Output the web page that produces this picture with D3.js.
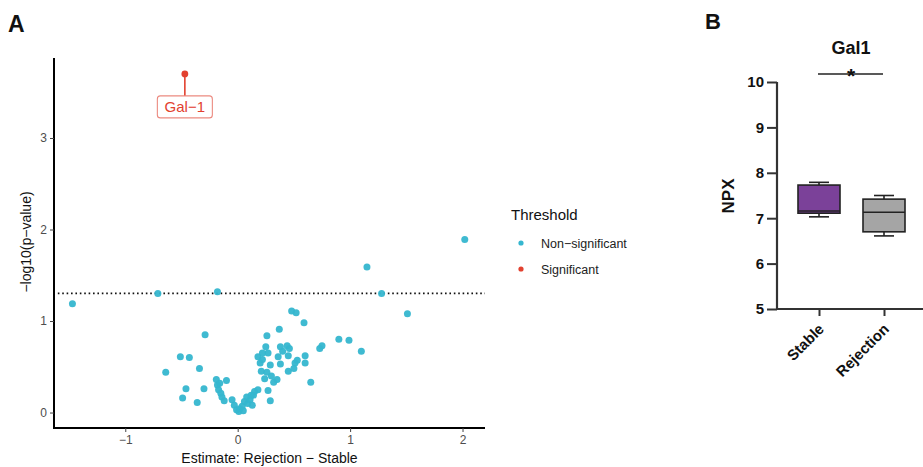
<!DOCTYPE html>
<html>
<head>
<meta charset="utf-8">
<script src="https://cdn.jsdelivr.net/npm/d3@7/dist/d3.min.js"></script>
<style>
  html, body { margin: 0; padding: 0; background: #ffffff; }
  svg { display: block; font-family: "Liberation Sans", Arial, sans-serif; }
</style>
</head>
<body>
<svg id="chart" width="923" height="467"></svg>
<script>
// ---------- Panel A data (volcano plot) ----------
const estimate = [
  -1.47, -0.71, -0.18, 1.15, 1.28, 2.02, 1.51,
  -0.64, -0.51, -0.43, -0.29, -0.34, -0.46, -0.49, -0.30, -0.36,
  -0.19, -0.10, -0.18, -0.17, -0.15, -0.14, -0.12, -0.16,
  -0.05, -0.03, -0.01, 0.01, 0.02, 0.04, 0.06, 0.08, 0.09, 0.11, 0.13, 0.14, 0.15, 0.18, 0.12, 0.27, 0.29, 0.05,
  0.18, 0.20, 0.21, 0.24, 0.26, 0.25, 0.26, 0.27, 0.29, 0.32, 0.35, 0.36, 0.37, 0.38, 0.38, 0.40, 0.44, 0.45,
  0.46, 0.45, 0.48, 0.52, 0.51, 0.53, 0.50, 0.59, 0.60, 0.60, 0.65, 0.73, 0.75, 0.90, 0.99, 1.10, 0.22, 0.30, 0.22
];
const negLog10P = [
  1.19, 1.30, 1.32, 1.59, 1.30, 1.89, 1.08,
  0.44, 0.61, 0.60, 0.85, 0.48, 0.26, 0.16, 0.26, 0.11,
  0.36, 0.35, 0.30, 0.25, 0.21, 0.17, 0.13, 0.32,
  0.14, 0.08, 0.03, 0.01, 0.04, 0.07, 0.12, 0.17, 0.10, 0.14, 0.08, 0.19, 0.23, 0.25, 0.19, 0.24, 0.13, 0.02,
  0.61, 0.54, 0.45, 0.37, 0.44, 0.72, 0.84, 0.65, 0.52, 0.33, 0.36, 0.61, 0.91, 0.72, 0.53, 0.67, 0.73, 0.62,
  0.70, 0.45, 1.11, 1.09, 0.54, 0.57, 0.48, 0.98, 0.62, 0.54, 0.33, 0.70, 0.73, 0.80, 0.79, 0.67, 0.58, 0.40, 0.65
];
const sigName = "Gal\u22121";
const sigEstimate = -0.47;
const sigNegLog10P = 3.70;
const pThresholdLine = -Math.log10(0.05);
const xTicksA = [-1, 0, 1, 2];
const yTicksA = [0, 1, 2, 3];
const legendLabels = ["Non\u2212significant", "Significant"];

// ---------- Panel B data (box plot) ----------
const groups = ["Stable", "Rejection"];
const boxMin    = [7.03, 6.61];
const boxQ1     = [7.11, 6.70];
const boxMedian = [7.16, 7.13];
const boxQ3     = [7.73, 7.42];
const boxMax    = [7.79, 7.50];
const yTicksB = [5, 6, 7, 8, 9, 10];

const colNon = "#35b6cf";
const colSig = "#e2412f";
const boxFill = ["#7b4199", "#a5a5a5"];

const svg = d3.select("#chart");

// ================= Panel A =================
const xA = d3.scaleLinear().domain([-1.634, 2.2]).range([54, 485]);
const yA = d3.scaleLinear().domain([-0.169, 3.874]).range([428, 58]);
const minus = v => (v < 0 ? "\u2212" + Math.abs(v) : String(v));

const gA = svg.append("g");

// threshold dotted line
gA.append("line")
  .attr("x1", xA(-1.6)).attr("x2", xA(2.2))
  .attr("y1", yA(pThresholdLine)).attr("y2", yA(pThresholdLine))
  .attr("stroke", "#111").attr("stroke-width", 1.8)
  .attr("stroke-dasharray", "1.6,2.8");

// points
const ptsA = estimate.map((e, i) => ({ x: e, y: negLog10P[i] }));
gA.append("g").selectAll("circle").data(ptsA).join("circle")
  .attr("cx", d => xA(d.x)).attr("cy", d => yA(d.y))
  .attr("r", 3.5).attr("fill", colNon).attr("fill-opacity", 0.95);

// significant point + label
const sx = xA(sigEstimate), sy = yA(sigNegLog10P);
gA.append("line").attr("x1", sx).attr("x2", sx).attr("y1", sy).attr("y2", sy + 22)
  .attr("stroke", colSig).attr("stroke-width", 1.6);
gA.append("circle").attr("cx", sx).attr("cy", sy).attr("r", 3.4).attr("fill", colSig);
gA.append("rect").attr("x", sx - 27.5).attr("y", sy + 22).attr("width", 55).attr("height", 22)
  .attr("rx", 3).attr("fill", "#fff").attr("stroke", "#ec8a80").attr("stroke-width", 1.1);
gA.append("text").attr("x", sx).attr("y", sy + 38.5).attr("text-anchor", "middle")
  .attr("font-size", 15).attr("fill", colSig).text(sigName);

// axes
const axXA = gA.append("g").attr("transform", "translate(0,428)")
  .call(d3.axisBottom(xA).tickValues(xTicksA).tickSize(4).tickFormat(minus));
const axYA = gA.append("g").attr("transform", "translate(54,0)")
  .call(d3.axisLeft(yA).tickValues(yTicksA).tickSize(4).tickFormat(minus));
[axXA, axYA].forEach(ax => {
  ax.select(".domain").attr("stroke", "#000").attr("stroke-width", 2);
  ax.selectAll(".tick line").attr("stroke", "#444").attr("stroke-width", 1);
  ax.selectAll(".tick text").attr("fill", "#4d4d4d").attr("font-size", 12)
    .attr("font-family", "Liberation Sans, Arial, sans-serif");
});
axXA.select(".domain").attr("d", "M54,0H485");
axYA.select(".domain").attr("d", "M0,58V429");

gA.append("text").attr("x", 269.5).attr("y", 463).attr("text-anchor", "middle")
  .attr("font-size", 14).attr("fill", "#111").text("Estimate: Rejection \u2212 Stable");
gA.append("text").attr("transform", "translate(31,242) rotate(-90)").attr("text-anchor", "middle")
  .attr("font-size", 14).attr("fill", "#111").text("\u2212log10(p\u2212value)");

gA.append("text").attr("x", 8).attr("y", 32).attr("font-size", 23).attr("font-weight", "bold")
  .attr("fill", "#111").text("A");

// legend
const leg = svg.append("g");
leg.append("text").attr("x", 511).attr("y", 220).attr("font-size", 15).attr("fill", "#111").text("Threshold");
legendLabels.forEach((lab, i) => {
  const y = 243 + i * 26;
  leg.append("circle").attr("cx", 521).attr("cy", y).attr("r", 2.6).attr("fill", i === 0 ? colNon : colSig);
  leg.append("text").attr("x", 541).attr("y", y + 4.5).attr("font-size", 12.5).attr("fill", "#222").text(lab);
});

// ================= Panel B =================
const yB = d3.scaleLinear().domain([5, 10]).range([309, 82]);
const xB = d3.scalePoint().domain(groups).range([819, 884]);
const gB = svg.append("g");

const axYB = gB.append("g").attr("transform", "translate(777,0)")
  .call(d3.axisLeft(yB).tickValues(yTicksB).tickSize(10).tickFormat(d3.format("d")));
axYB.select(".domain").attr("d", "M0,82V310").attr("stroke", "#333").attr("stroke-width", 2.2);
axYB.selectAll(".tick line").attr("stroke", "#333").attr("stroke-width", 2);
axYB.selectAll(".tick text").attr("font-size", 15).attr("font-weight", "bold").attr("fill", "#111")
  .attr("x", -13).attr("font-family", "Liberation Sans, Arial, sans-serif");

const axXB = gB.append("g").attr("transform", "translate(0,309)")
  .call(d3.axisBottom(xB).tickSize(7).tickFormat(""));
axXB.select(".domain").attr("d", "M776,0H923").attr("stroke", "#333").attr("stroke-width", 2.2);
axXB.selectAll(".tick line").attr("stroke", "#333").attr("stroke-width", 2);
groups.forEach(g => {
  gB.append("text").attr("transform", `translate(${xB(g) + 6},330) rotate(-45)`)
    .attr("text-anchor", "end").attr("font-size", 15).attr("font-weight", "bold")
    .attr("fill", "#111").text(g);
});

// boxes
groups.forEach((g, i) => {
  const cx = xB(g), w = 42, cw = 20;
  const line = (x1, y1, x2, y2) => gB.append("line").attr("x1", x1).attr("y1", y1)
    .attr("x2", x2).attr("y2", y2).attr("stroke", "#222").attr("stroke-width", 1.6);
  line(cx, yB(boxMax[i]), cx, yB(boxQ3[i]));
  line(cx, yB(boxQ1[i]), cx, yB(boxMin[i]));
  line(cx - cw / 2, yB(boxMax[i]), cx + cw / 2, yB(boxMax[i]));
  line(cx - cw / 2, yB(boxMin[i]), cx + cw / 2, yB(boxMin[i]));
  gB.append("rect").attr("x", cx - w / 2).attr("y", yB(boxQ3[i]))
    .attr("width", w).attr("height", yB(boxQ1[i]) - yB(boxQ3[i]))
    .attr("fill", boxFill[i]).attr("stroke", "#222").attr("stroke-width", 1.6);
  line(cx - w / 2, yB(boxMedian[i]), cx + w / 2, yB(boxMedian[i]));
});

// title, significance, labels
gB.append("text").attr("x", 851).attr("y", 54).attr("text-anchor", "middle")
  .attr("font-size", 18).attr("font-weight", "bold").attr("fill", "#111").text("Gal1");
gB.append("line").attr("x1", 818).attr("x2", 883).attr("y1", 74).attr("y2", 74)
  .attr("stroke", "#222").attr("stroke-width", 1.6);
gB.append("text").attr("x", 851).attr("y", 83).attr("text-anchor", "middle")
  .attr("font-size", 21).attr("font-weight", "bold").attr("fill", "#111").text("*");
gB.append("text").attr("transform", "translate(734,196) rotate(-90)").attr("text-anchor", "middle")
  .attr("font-size", 17).attr("font-weight", "bold").attr("fill", "#111").text("NPX");
gB.append("text").attr("x", 705).attr("y", 29).attr("font-size", 22).attr("font-weight", "bold")
  .attr("fill", "#111").text("B");
</script>
</body>
</html>
